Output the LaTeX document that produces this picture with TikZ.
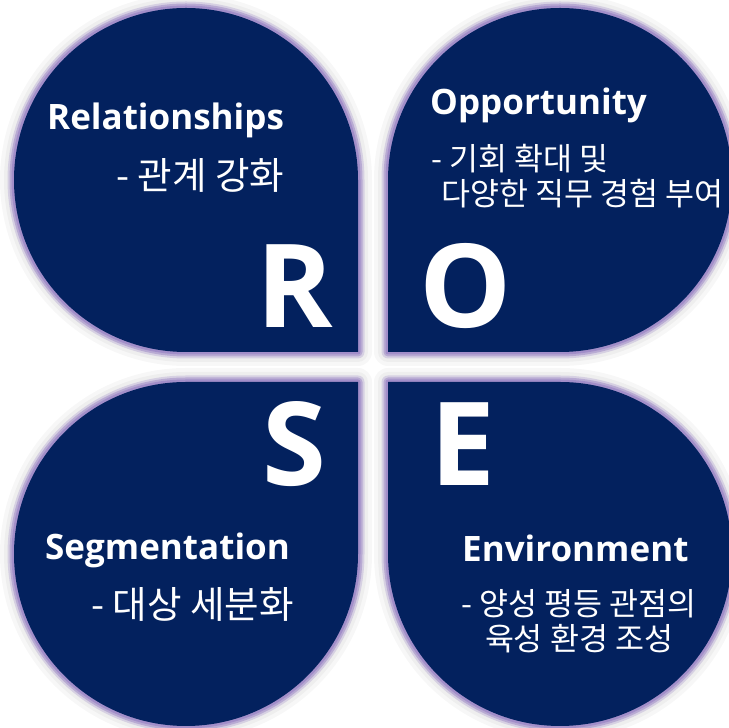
\documentclass[tikz,border=0pt]{standalone}
\usepackage{fontspec}
\setmainfont{Noto Sans CJK KR}
\newfontfamily\headfont{Open Sans}
\definecolor{navy}{HTML}{03215E}
\definecolor{glow}{HTML}{A08CC8}
\newcommand\mypetal[1]{%
  \draw[line width=28pt, draw=black, draw opacity=0.03, line join=round] #1;
  \draw[line width=20pt, draw=black, draw opacity=0.035, line join=round] #1;
  \draw[line width=13pt, draw=glow, draw opacity=0.3, line join=round] #1;
  \draw[line width=9pt, draw=glow, draw opacity=0.55, line join=round] #1;
  \draw[line width=5pt, draw=glow, draw opacity=0.9, line join=round] #1;
  \fill[navy] #1;}
\tikzset{
  head/.style={text=white, inner sep=0pt, anchor=base west, font=\headfont\bfseries\fontsize{35}{35}\selectfont},
  subl/.style={text=white, inner sep=0pt, anchor=base west, font=\fontsize{37.5}{40}\selectfont},
  sub/.style={text=white, inner sep=0pt, anchor=base west, font=\fontsize{31.5}{35}\selectfont},
  big/.style={text=white, inner sep=0pt, anchor=base west, font=\headfont\bfseries\fontsize{116}{116}\selectfont}
}
\begin{document}
\begin{tikzpicture}[x=1pt,y=1pt]
\useasboundingbox (0,0) rectangle (729,728);
\fill[white] (0,0) rectangle (729,728);
\begin{scope}
\clip (0,0) rectangle (729,728);
\mypetal{(358,376) -- (186,376) arc[start angle=270, end angle=0, radius=172] -- cycle}
\mypetal{(388,376) -- (388,548) arc[start angle=180, end angle=-90, radius=172] -- cycle}
\mypetal{(358,346) -- (186,346) arc[start angle=90, end angle=360, radius=172] -- cycle}
\mypetal{(388,346) -- (388,174) arc[start angle=180, end angle=450, radius=172] -- cycle}
\end{scope}
% top-left
\node[head] (rel) at (47,598) {Relationships};
\node[subl] (relk) at (116,538) {- 관계 강화};
\node[big] (R) at (256,400) {R};
% top-right
\node[head] (opp) at (430,613) {Opportunity};
\node[sub] (oppk) at (431,557) {- 기회 확대 및};
\node[sub] (oppk2) at (441,522) {다양한 직무 경험 부여};
\node[big] (O) at (419,400) {O};
% bottom-left
\node[big] (S) at (262,242) {S};
\node[head] (seg) at (45,168) {Segmentation};
\node[subl] (segk) at (91,109) {- 대상 세분화};
% bottom-right
\node[big] (E) at (430,242) {E};
\node[head] (env) at (462,166) {Environment};
\node[sub, anchor=base] (envk) at (579,112) {- 양성 평등 관점의};
\node[sub, anchor=base] (envk2) at (579,77) {육성 환경 조성};
\end{tikzpicture}
\end{document}
